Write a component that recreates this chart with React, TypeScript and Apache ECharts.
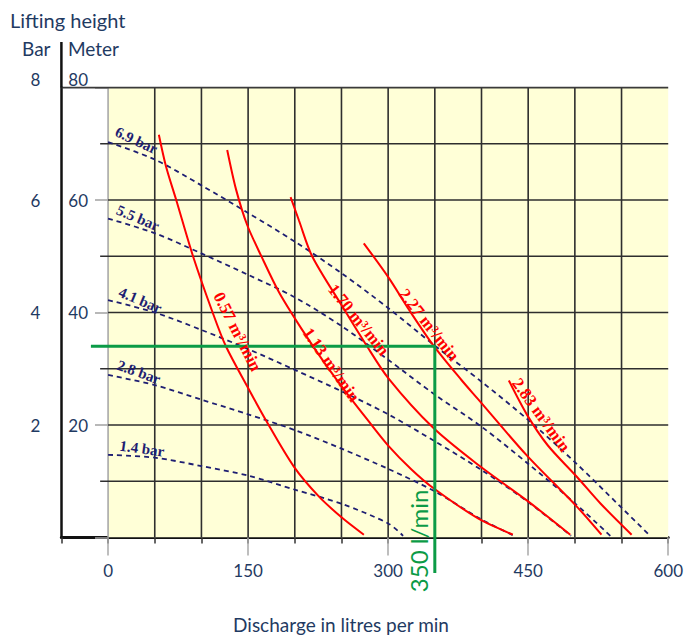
import React, { useEffect, useRef } from 'react';
import * as echarts from 'echarts';

// ---- axes / ticks ----
const xTickLabels = [0, 150, 300, 450, 600];
const xGridValues = [0, 50, 100, 150, 200, 250, 300, 350, 400, 450, 500, 550];
const meterMajor = [20, 40, 60];
const meterMinor = [10, 30, 50, 70];

// ---- air pressure curves (blue dashed): [litres/min, metres] ----
const bar69: [number, number][] = [[0, 70.3], [50, 67.2], [100, 62.6], [150, 57.7], [200, 52.6], [250, 47.0], [300, 40.8], [350, 34.1], [400, 27.7], [450, 20.9], [500, 13.4], [550, 5.3], [580, 0.4]];
const bar55: [number, number][] = [[0, 56.7], [50, 54.1], [100, 50.5], [150, 46.7], [200, 42.7], [250, 37.6], [300, 31.6], [350, 25.4], [400, 19.7], [450, 13.1], [500, 6.1], [538, 0.3]];
const bar41: [number, number][] = [[0, 42.2], [50, 40.0], [100, 36.9], [150, 33.5], [200, 29.8], [250, 26.0], [300, 21.9], [350, 17.1], [400, 12.0], [450, 6.3], [496, 0.3]];
const bar28: [number, number][] = [[0, 28.9], [50, 27.1], [100, 24.5], [150, 21.9], [200, 19.1], [250, 15.8], [300, 12.2], [350, 8.2], [400, 3.2], [435, 0.3]];
const bar14: [number, number][] = [[0, 14.7], [50, 14.2], [100, 12.7], [150, 11.0], [200, 8.5], [250, 6.0], [300, 2.5], [316, 0.3]];

const pressureNames = ['6.9 bar', '5.5 bar', '4.1 bar', '2.8 bar', '1.4 bar'];
const pressureCurves = [bar69, bar55, bar41, bar28, bar14];
const pressureLabelAt: [number, number][] = [[30.3, 70.6], [32.0, 56.8], [34.5, 42.2], [33.0, 29.4], [36.3, 15.8]];
const pressureLabelAngle = [25, 23, 23, 20, 8];

// ---- air consumption curves (red): [litres/min, metres] ----
const air057: [number, number][] = [[54.4, 71.6], [62, 66], [73, 60], [91, 50], [112, 40], [126.2, 34], [149.3, 26.8], [168.9, 20.9], [199, 12.6], [225.7, 7.3], [250, 3.6], [274, 0.5]];
const air113: [number, number][] = [[127.6, 68.9], [137.2, 61.8], [148.9, 55.6], [163.9, 50.1], [183.1, 43.6], [207.6, 37.0], [232, 31.0], [255, 25.8], [278, 20.9], [300.3, 16.3], [325, 12.1], [348.3, 8.8], [396.3, 3.4], [433.6, 0.5]];
const air170: [number, number][] = [[195.5, 60.5], [204.4, 56.4], [218.6, 50.0], [250.5, 41.2], [275.5, 34.5], [300.3, 28.3], [348.3, 19.5], [398.1, 12.7], [448.5, 6.6], [495.1, 0.5]];
const air227: [number, number][] = [[273.9, 52.3], [300.5, 46.2], [322.7, 40.4], [348.2, 34.2], [378.5, 28.0], [396.3, 24.6], [448.5, 14.6], [502.1, 5.5], [528.5, 0.5]];
const air283: [number, number][] = [[429.3, 27.9], [448.8, 21.8], [470.9, 16.4], [502.1, 10.8], [527.7, 6.0], [560.8, 0.5]];

const airNames = ['0.57 m³/min', '1.13 m³/min', '1.70 m³/min', '2.27 m³/min', '2.83 m³/min'];
const airCurves = [air057, air113, air170, air227, air283];
const airLabelAt: [number, number][] = [[138.5, 36.6], [239.0, 30.7], [268.4, 38.7], [343.8, 37.8], [463.8, 21.8]];
const airLabelAngle = [63, 55, 51, 52, 54];

// ---- duty point ----
const dutyFlow = 350;
const dutyHead = 34;
const dutyLineStartX = -18.4;
const dutyLineEndY = -6.3;
const dutyLabel = '350 l/min';
const dutyLabelAt: [number, number] = [332, -0.6];

const minorGridStart = -8.5;

export default function App() {
  const ref = useRef<HTMLDivElement>(null);
  useEffect(() => {
    const chart = echarts.init(ref.current!, null, { renderer: 'svg' });
    const navy = '#1f3a62';
    const font = 'Lato, "Open Sans", sans-serif';
    const serif = '"Liberation Serif", "DejaVu Serif", serif';
    const green = '#0b9b46';
    const darkGrid = '#2e2e2e';

    const base = { type: 'line', symbol: 'none', silent: true, xAxisIndex: 0, yAxisIndex: 0 } as any;

    const series: any[] = [];
    // yellow plot background
    series.push({ ...base, z: 1, data: [[0, 80], [600, 80]], lineStyle: { width: 0 }, areaStyle: { color: '#ffffd7', opacity: 1, origin: 'start' } });
    // vertical grid
    xGridValues.forEach((v) => series.push({ ...base, z: 2, data: [[v, 0], [v, 80]], lineStyle: { color: v === 0 ? '#a8a8a8' : darkGrid, width: 1.6 } }));
    // horizontal grid
    meterMajor.forEach((v) => series.push({ ...base, z: 2, data: [[0, v], [600, v]], lineStyle: { color: darkGrid, width: 1.6 } }));
    meterMinor.forEach((v) => series.push({ ...base, z: 2, data: [[minorGridStart, v], [600, v]], lineStyle: { color: darkGrid, width: 1.6 } }));
    series.push({ ...base, z: 2, data: [[-50, 80], [600, 80]], lineStyle: { color: '#3a3a3a', width: 1.8 } });
    // pressure curves
    pressureCurves.forEach((d, i) => series.push({ ...base, name: pressureNames[i], z: 3, data: d, smooth: 0.3, lineStyle: { color: '#1e1e72', width: 1.8, type: [5, 4] } }));
    // air consumption curves
    airCurves.forEach((d, i) => series.push({ ...base, name: airNames[i], z: 3, data: d, smooth: 0.3, lineStyle: { color: '#ff0000', width: 2 } }));
    // duty point
    series.push({ ...base, z: 4, clip: false, data: [[dutyLineStartX, dutyHead], [dutyFlow, dutyHead], [dutyFlow, dutyLineEndY]], lineStyle: { color: green, width: 3 } });

    chart.setOption({
      animation: false,
      grid: { left: 61.4, right: 15, top: 87.5, bottom: 99.5 },
      xAxis: [
        {
          type: 'value', min: -50, max: 600, interval: 50, position: 'bottom',
          axisLine: { onZero: false, lineStyle: { color: '#111', width: 3 } },
          axisTick: { length: 6, lineStyle: { color: '#333', width: 1.5 } },
          axisLabel: { show: false }, splitLine: { show: false },
        },
        {
          type: 'value', min: -50, max: 600, interval: 50, position: 'bottom',
          axisLine: { show: false, onZero: false },
          axisTick: { customValues: xTickLabels, length: 18, lineStyle: { color: '#a8a8a8', width: 1.5 } },
          axisLabel: {
            customValues: xTickLabels, margin: 24, color: navy, fontSize: 17, fontFamily: font,
            formatter: (v: number) => (v >= 0 && v % 150 === 0 ? String(v) : ''),
          },
          splitLine: { show: false },
        },
      ],
      yAxis: [
        {
          type: 'value', min: 0, max: 80, interval: 20, position: 'left', offset: -33.6,
          axisLine: { show: false, onZero: false },
          axisTick: { inside: true, length: 13, lineStyle: { color: '#a0a0a0', width: 1.5 } },
          axisLabel: { margin: 7, color: navy, fontSize: 17, fontFamily: font, formatter: (v: number) => (v === 0 ? '' : String(v)), verticalAlignMaxLabel: 'bottom' },
          splitLine: { show: false },
        },
        {
          type: 'value', min: 0, max: 8, interval: 2, position: 'left', offset: 0,
          axisLine: { show: true, onZero: false, lineStyle: { color: '#111', width: 2.5 } },
          axisTick: { show: false },
          axisLabel: { margin: 21, color: navy, fontSize: 17, fontFamily: font, formatter: (v: number) => (v === 0 ? '' : String(v)), verticalAlignMaxLabel: 'bottom' },
          splitLine: { show: false },
        },
      ],
      series,
    });

    const px = (p: [number, number]) => chart.convertToPixel({ xAxisIndex: 0, yAxisIndex: 0 } as any, p) as number[];
    const graphics: any[] = [];
    pressureNames.forEach((t, i) => {
      const [x, y] = px(pressureLabelAt[i]);
      graphics.push({ type: 'text', x, y, rotation: (-pressureLabelAngle[i] * Math.PI) / 180, z: 10, style: { text: t, fill: '#1e1e72', fontSize: 15, fontWeight: 'bold', fontFamily: serif, align: 'center', verticalAlign: 'middle', textAlign: 'center', textVerticalAlign: 'middle' } });
    });
    airNames.forEach((t, i) => {
      const [x, y] = px(airLabelAt[i]);
      graphics.push({ type: 'text', x, y, rotation: (-airLabelAngle[i] * Math.PI) / 180, z: 10, style: { text: t, fill: '#ff0000', fontSize: 17, fontWeight: 'bold', fontFamily: serif, align: 'center', verticalAlign: 'middle', textAlign: 'center', textVerticalAlign: 'middle' } });
    });
    {
      const [x, y] = px(dutyLabelAt);
      graphics.push({ type: 'text', x, y, rotation: Math.PI / 2, z: 10, style: { text: dutyLabel, fill: green, fontSize: 24, fontFamily: font, align: 'center', verticalAlign: 'middle', textAlign: 'center', textVerticalAlign: 'middle' } });
    }
    const [fx, fy] = px([-50, 80]);
    graphics.push({ type: 'line', z: 10, shape: { x1: fx, y1: 42, x2: fx, y2: fy }, style: { stroke: '#111', lineWidth: 2.5 } });
    const hdr = (text: string, x: number, y: number, size: number, align = 'left') => ({ type: 'text', x, y, z: 10, style: { text, fill: navy, fontSize: size, fontFamily: font, align, verticalAlign: 'middle', textAlign: align, textVerticalAlign: 'middle' } });
    graphics.push(hdr('Lifting height', 10, 20, 20));
    graphics.push(hdr('Bar', 22, 48, 19));
    graphics.push(hdr('Meter', 68, 48, 19));
    graphics.push(hdr('Discharge in litres per min', 341, 624, 19, 'center'));
    chart.setOption({ graphic: graphics });

    return () => chart.dispose();
  }, []);
  return <div ref={ref} style={{ position: 'absolute', left: 0, top: 0, width: 686, height: 637 }} />;
}
